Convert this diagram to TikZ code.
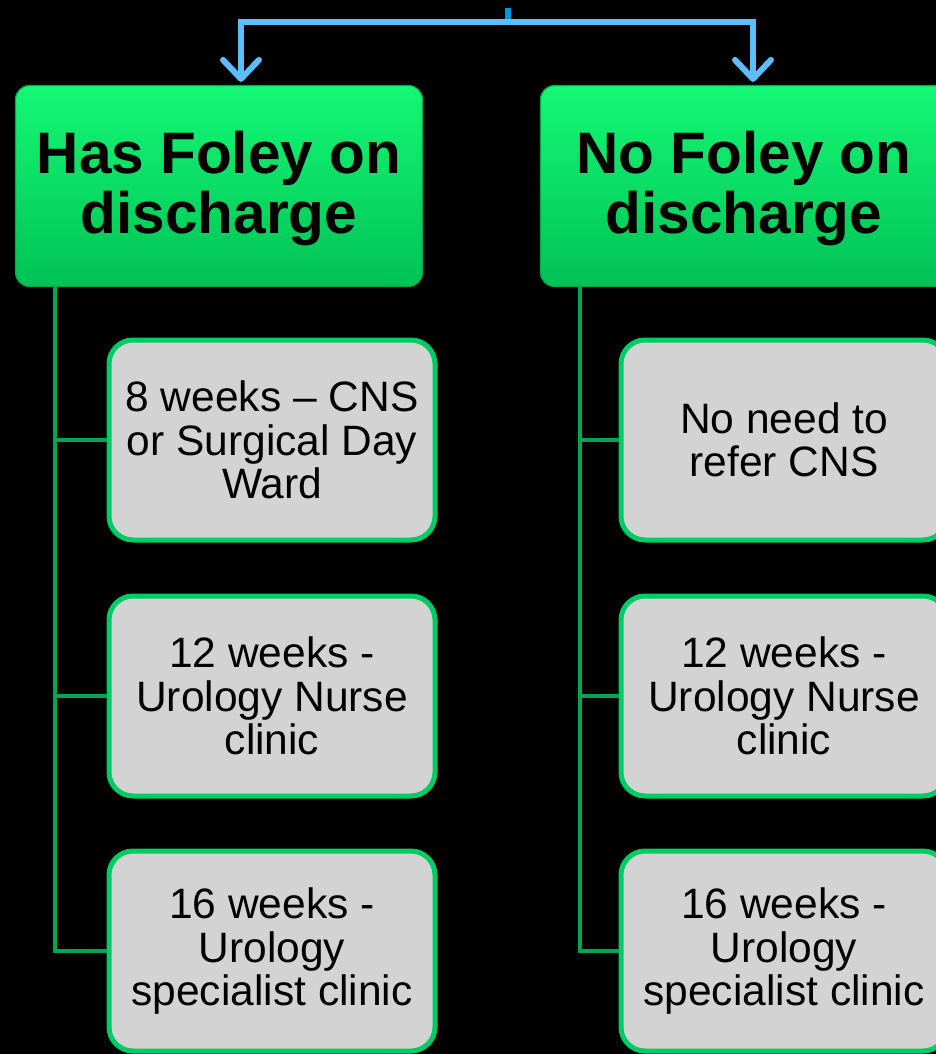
\documentclass[tikz,border=0pt]{standalone}
\usepackage{fontspec}
\setmainfont{Liberation Sans}
\usetikzlibrary{arrows.meta}
\definecolor{headtop}{HTML}{14F874}
\definecolor{headbot}{HTML}{00C255}
\definecolor{headedge}{HTML}{00A84C}
\definecolor{boxfill}{HTML}{D3D3D3}
\definecolor{boxedge}{HTML}{00CC66}
\definecolor{treeline}{HTML}{00A651}
\definecolor{arrowblue}{HTML}{5CBEFF}
\definecolor{tickblue}{HTML}{0094E0}

\begin{document}
\begin{tikzpicture}[x=1pt,y=-1pt,
  header/.style={rounded corners=14pt,top color=headtop,bottom color=headbot,draw=headedge,line width=1.2pt,minimum width=407pt,minimum height=201pt,align=center,inner sep=0pt,font=\fontsize{58.5}{60}\selectfont\bfseries},
  stepbox/.style={rounded corners=24pt,fill=boxfill,draw=boxedge,line width=5pt,minimum width=326pt,minimum height=200pt,align=center,inner sep=0pt,font=\fontsize{42.5}{43.5}\selectfont},
  branch/.style={treeline,line width=4pt},
  splitarrow/.style={arrowblue,line width=6pt,-{Straight Barb[length=19pt,width=36pt,round]}}]
  \clip (0,0) rectangle (936,1054);
  \fill[black] (0,0) rectangle (936,1054);

  % headers
  \node[header] (has) at (219,186) {\raisebox{-3pt}[\height][\depth]{\parbox{400pt}{\centering Has Foley on\\discharge}}};
  \node[header] (no) at (744,186) {\raisebox{-3pt}[\height][\depth]{\parbox{400pt}{\centering No Foley on\\discharge}}};

  % top split
  \coordinate (tick) at (508,8);
  \coordinate (topL) at (241,22);
  \coordinate (topR) at (753,22);
  \draw[tickblue,line width=6pt] (tick) -- (tick |- topL);
  \draw[splitarrow] (topR) -- (topL) -- ([yshift=3pt]topL |- has.north);
  \draw[splitarrow] (topL) -- (topR) -- ([yshift=3pt]topR |- no.north);

  % left column
  \node[stepbox] (has8) at (272,440) {8 weeks \textendash{} CNS\\or Surgical Day\\Ward};
  \node[stepbox] (has12) at (272,696) {12 weeks -\\Urology Nurse\\clinic};
  \node[stepbox] (has16) at (272,951) {16 weeks -\\Urology\\specialist clinic};

  % right column
  \node[stepbox] (no8) at (784,440) {No need to\\refer CNS};
  \node[stepbox] (no12) at (784,696) {12 weeks -\\Urology Nurse\\clinic};
  \node[stepbox] (no16) at (784,951) {16 weeks -\\Urology\\specialist clinic};

  % tree lines
  \coordinate (hasT) at (55,287);
  \coordinate (noT) at (580,287);
  \foreach \b in {has8,has12,has16}
    \draw[branch] (hasT) |- (\b.west);
  \foreach \b in {no8,no12,no16}
    \draw[branch] (noT) |- (\b.west);
\end{tikzpicture}
\end{document}
